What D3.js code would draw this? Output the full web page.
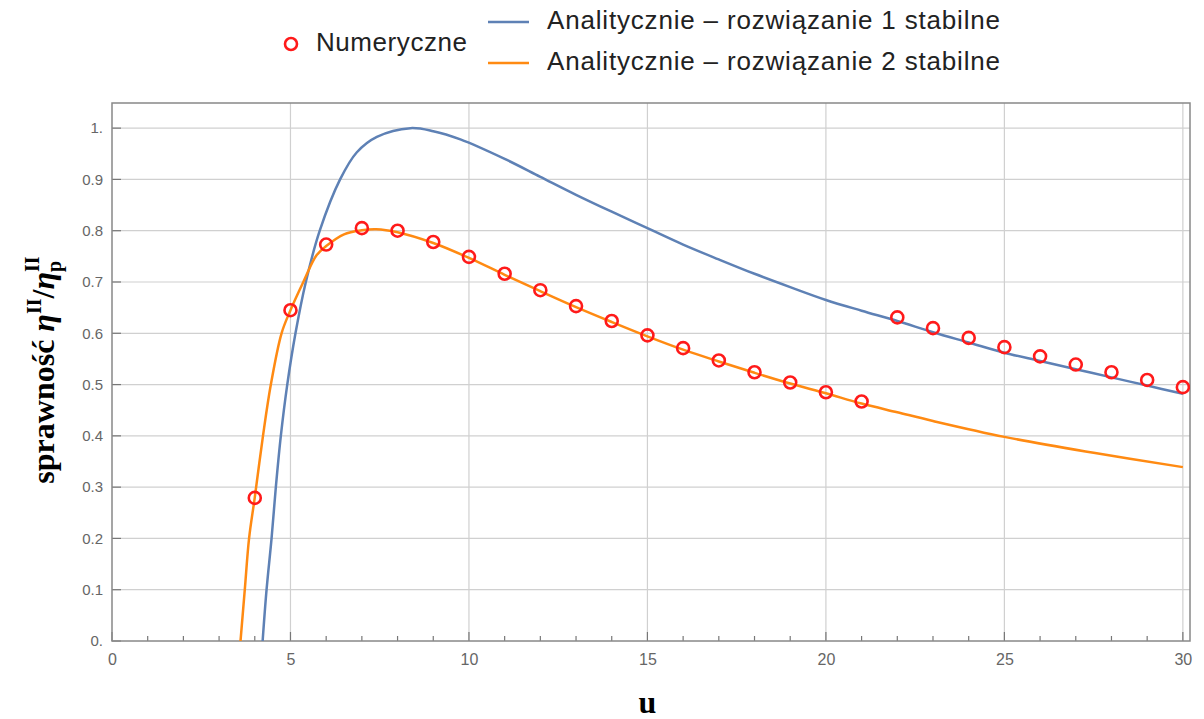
<!DOCTYPE html>
<html>
<head>
<meta charset="utf-8">
<script src="https://cdn.jsdelivr.net/npm/d3@7"></script>
<style>
  body { margin: 0; background: #fff; }
  text { font-family: "Liberation Sans", Arial, sans-serif; }
</style>
</head>
<body>
<div id="chart"></div>
<script>
// numerical points (red circles)
var numU = [4, 5, 6, 7, 8, 9, 10, 11, 12, 13, 14, 15, 16, 17, 18, 19, 20, 21,
            22, 23, 24, 25, 26, 27, 28, 29, 30];
var numV = [0.279, 0.645, 0.773, 0.805, 0.800, 0.778, 0.749, 0.716, 0.684, 0.653, 0.624, 0.596, 0.571, 0.547, 0.524, 0.504, 0.485, 0.467,
            0.631, 0.610, 0.591, 0.573, 0.555, 0.539, 0.524, 0.509, 0.495];

// analytic solution 1 (blue)
var sol1U = [4.22, 4.33, 4.47, 4.59, 4.73, 4.91, 5.14, 5.43, 5.82, 6.39, 6.86, 7.42, 8.36, 9.0, 9.76,
             11, 12, 13, 14, 15, 16, 17, 18, 19, 20, 21, 22, 23, 24, 25, 26, 27, 28, 29, 30];
var sol1V = [0, 0.1, 0.2, 0.3, 0.4, 0.5, 0.6, 0.7, 0.8, 0.9, 0.953, 0.983, 1.0, 0.994, 0.978,
             0.940, 0.905, 0.870, 0.837, 0.805, 0.773, 0.744, 0.716, 0.690, 0.665, 0.644, 0.624, 0.602, 0.582, 0.562, 0.546, 0.530, 0.514, 0.498, 0.482];

// analytic solution 2 (orange)
var sol2U = [3.6, 3.72, 3.84, 4.0, 4.23, 4.45, 4.75, 5.0, 5.36, 5.73, 6.0, 6.5, 7.0, 7.4, 8.0, 9.0,
             10, 11, 12, 13, 14, 15, 16, 17, 18, 19, 20, 21, 22, 23, 25, 27.5, 30];
var sol2V = [0, 0.1, 0.2, 0.28, 0.4, 0.5, 0.6, 0.645, 0.7, 0.752, 0.770, 0.793, 0.801, 0.803, 0.797, 0.776,
             0.747, 0.714, 0.682, 0.651, 0.622, 0.594, 0.568, 0.545, 0.523, 0.502, 0.483, 0.463, 0.446, 0.429, 0.398, 0.367, 0.339];

var xTicks = [0, 5, 10, 15, 20, 25, 30];
var xMinor = d3.range(0, 31, 1);
var yTicks = [0, 0.1, 0.2, 0.3, 0.4, 0.5, 0.6, 0.7, 0.8, 0.9, 1.0];
var legendLabels = ["Numeryczne", "Analitycznie \u2013 rozwiązanie 1 stabilne", "Analitycznie \u2013 rozwiązanie 2 stabilne"];

var colBlue = "#5e81b5";
var colOrange = "#ff8a12";
var colRed = "#ff1a1a";

var W = 1204, H = 719;
var margin = {top: 103, right: 14, bottom: 78, left: 112};
var width = W - margin.left - margin.right;
var height = H - margin.top - margin.bottom;

var svg = d3.select("#chart").append("svg")
    .attr("width", W)
    .attr("height", H);

var g = svg.append("g")
    .attr("transform", "translate(" + margin.left + "," + margin.top + ")");

var x = d3.scaleLinear().domain([0, 30.2]).range([0, width]);
var y = d3.scaleLinear().domain([0, 1.049]).range([height, 0]);

// grid
g.selectAll(".vgrid").data(xTicks.filter(function(d) { return d > 0; }))
    .enter().append("line")
    .attr("x1", function(d) { return x(d); })
    .attr("x2", function(d) { return x(d); })
    .attr("y1", 0).attr("y2", height)
    .style("stroke", "#d0d0d0").style("stroke-width", 1.2);

g.selectAll(".hgrid").data(yTicks.filter(function(d) { return d > 0; }))
    .enter().append("line")
    .attr("x1", 0).attr("x2", width)
    .attr("y1", function(d) { return y(d); })
    .attr("y2", function(d) { return y(d); })
    .style("stroke", "#d0d0d0").style("stroke-width", 1.2);

// axes
var xAxis = d3.axisBottom(x).tickValues(xTicks).tickSize(0).tickPadding(13)
    .tickFormat(function(d) { return d; });
var xAxisG = g.append("g").attr("transform", "translate(0," + height + ")").call(xAxis);
xAxisG.select(".domain").remove();
xAxisG.selectAll("text").style("font-size", "16px").style("fill", "#666")
    .style("font-family", "Liberation Sans, Arial, sans-serif");

var yAxis = d3.axisLeft(y).tickValues(yTicks).tickSize(0).tickPadding(9)
    .tickFormat(function(d) { return d === 0 ? "0." : (d === 1 ? "1." : d3.format(".1f")(d)); });
var yAxisG = g.append("g").call(yAxis);
yAxisG.select(".domain").remove();
yAxisG.selectAll("text").style("font-size", "15px").style("fill", "#666")
    .style("font-family", "Liberation Sans, Arial, sans-serif");

// tick marks
g.selectAll(".xtick").data(xMinor).enter().append("line")
    .attr("x1", function(d) { return x(d); })
    .attr("x2", function(d) { return x(d); })
    .attr("y1", height)
    .attr("y2", function(d) { return d % 5 === 0 ? height - 9 : height - 5; })
    .style("stroke", "#777").style("stroke-width", 1.2);

g.selectAll(".ytick").data(yTicks).enter().append("line")
    .attr("x1", 0).attr("x2", 9)
    .attr("y1", function(d) { return y(d); })
    .attr("y2", function(d) { return y(d); })
    .style("stroke", "#777").style("stroke-width", 1.2);

// frame
g.append("rect")
    .attr("width", width).attr("height", height)
    .style("fill", "none").style("stroke", "#888").style("stroke-width", 1.5);

// clip
g.append("clipPath").attr("id", "clip").append("rect")
    .attr("width", width).attr("height", height);

var line = d3.line()
    .x(function(d) { return x(d[0]); })
    .y(function(d) { return y(d[1]); })
    .curve(d3.curveCatmullRom.alpha(0.5));

var curves = g.append("g").attr("clip-path", "url(#clip)");

curves.append("path")
    .datum(d3.zip(sol1U, sol1V))
    .attr("d", line)
    .style("fill", "none").style("stroke", colBlue).style("stroke-width", 2.5);

curves.append("path")
    .datum(d3.zip(sol2U, sol2V))
    .attr("d", line)
    .style("fill", "none").style("stroke", colOrange).style("stroke-width", 2.5);

curves.selectAll("circle").data(d3.zip(numU, numV))
    .enter().append("circle")
    .attr("cx", function(d) { return x(d[0]); })
    .attr("cy", function(d) { return y(d[1]); })
    .attr("r", 6)
    .style("fill", "none").style("stroke", colRed).style("stroke-width", 2.6);

// axis titles
svg.append("text")
    .attr("x", x(15) + margin.left)
    .attr("y", 713)
    .attr("text-anchor", "middle")
    .style("font-family", "Liberation Serif, Times New Roman, serif")
    .style("font-weight", "bold")
    .style("font-size", "32px")
    .text("u");

var yt = svg.append("text")
    .attr("transform", "translate(54," + 370 + ") rotate(-90)")
    .attr("text-anchor", "middle")
    .style("font-family", "Liberation Serif, Times New Roman, serif")
    .style("font-weight", "bold")
    .style("font-size", "32px");
yt.append("tspan").text("sprawność ");
yt.append("tspan").style("font-style", "italic").text("η");
yt.append("tspan").attr("dy", -13).style("font-size", "20px").text("II");
yt.append("tspan").attr("dy", 13).text("/");
yt.append("tspan").style("font-style", "italic").text("η");
yt.append("tspan").attr("dy", 7).style("font-size", "20px").text("p");
yt.append("tspan").attr("dx", -11).attr("dy", -22).style("font-size", "20px").text("II");

// legend
var leg = svg.append("g");
leg.append("circle")
    .attr("cx", 291).attr("cy", 44).attr("r", 6)
    .style("fill", "none").style("stroke", colRed).style("stroke-width", 2.6);
leg.append("text")
    .attr("x", 316).attr("y", 51)
    .attr("textLength", 151).attr("lengthAdjust", "spacing")
    .style("font-size", "26px").style("fill", "#222")
    .text(legendLabels[0]);

[colBlue, colOrange].forEach(function(c, i) {
    var yy = 22 + i * 41;
    leg.append("line")
        .attr("x1", 488).attr("x2", 529)
        .attr("y1", yy).attr("y2", yy)
        .style("stroke", c).style("stroke-width", 2.5);
    leg.append("text")
        .attr("x", 547).attr("y", yy + 7)
        .attr("textLength", 453).attr("lengthAdjust", "spacing")
        .style("font-size", "26px").style("fill", "#222")
        .text(legendLabels[i + 1]);
});
</script>
</body>
</html>
